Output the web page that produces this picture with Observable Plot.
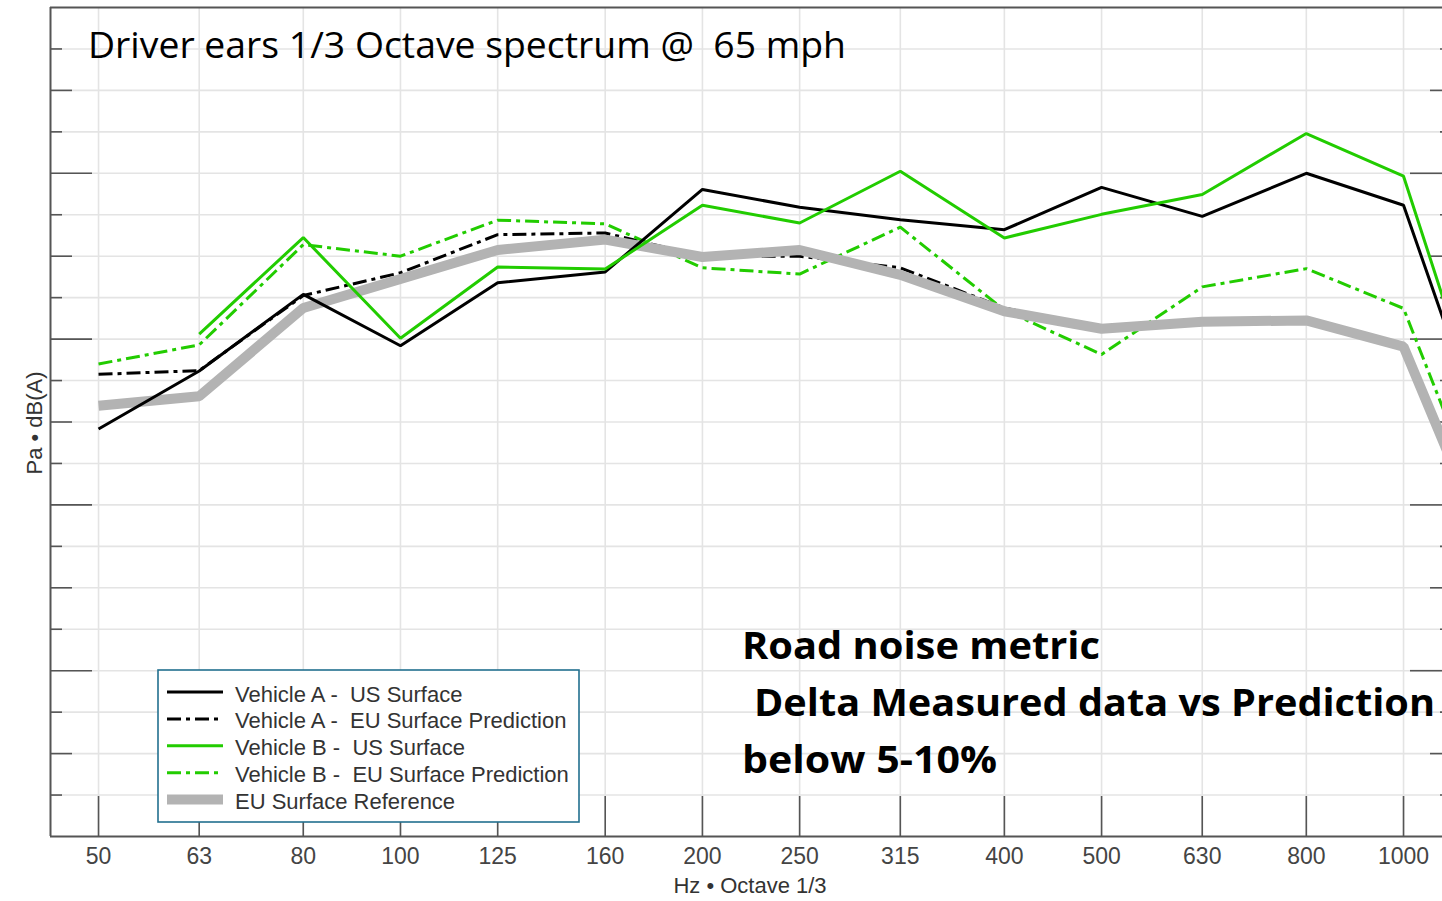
<!DOCTYPE html>
<html><head><meta charset="utf-8">
<script src="https://cdn.jsdelivr.net/npm/d3@7"></script>
<script src="https://cdn.jsdelivr.net/npm/@observablehq/plot@0.6"></script>
<style>
html,body{margin:0;padding:0;background:#fff;overflow:hidden;}
#chart{position:relative;width:1442px;height:901px;}
#chart svg{max-width:none !important;}
</style></head><body><div id="chart"></div>
<script>
// ---- data (dB units on the hidden y scale) ----
const freqs      = [50, 63, 80, 100, 125, 160, 200, 250, 315, 400, 500, 630, 800, 1000, 1250];
const tickFreqs  = [50, 63, 80, 100, 125, 160, 200, 250, 315, 400, 500, 630, 800, 1000];
const tickLabels = ["50","63","80","100","125","160","200","250","315","400","500","630","800","1000"];
const vehA_US = [9.83, 11.23, 13.08, 11.84, 13.36, 13.62, 15.61, 15.18, 14.88, 14.64, 15.66, 14.96, 16.0, 15.23, 8.5];
const vehA_EU = [11.15, 11.24, 13.05, 13.6, 14.52, 14.56, 14.0, 14.0, 13.72, 12.75, 12.27, 12.41, 12.46, 11.85, 6.3];
const vehB_US = [null, 12.12, 14.45, 12.02, 13.74, 13.69, 15.23, 14.8, 16.05, 14.44, 15.01, 15.49, 16.96, 15.93, 8.7];
const vehB_EU = [11.4, 11.86, 14.28, 14.0, 14.87, 14.78, 13.72, 13.57, 14.7, 12.7, 11.63, 13.26, 13.7, 12.74, 6.8];
const euRef   = [10.39, 10.62, 12.75, 13.45, 14.15, 14.4, 13.98, 14.15, 13.55, 12.67, 12.25, 12.42, 12.45, 11.82, 6.2];
const seriesNames = ["Vehicle A -  US Surface", "Vehicle A -  EU Surface Prediction", "Vehicle B -  US Surface", "Vehicle B -  EU Surface Prediction", "EU Surface Reference"];
const yGrid  = [1,2,3,4,5,6,7,8,9,10,11,12,13,14,15,16,17,18,19];
const yLong  = [4, 8, 12, 16];
const yMed   = [2, 6, 10, 14, 18];
const yShort = [1, 3, 5, 7, 9, 11, 13, 15, 17, 19];
const title = "Driver ears 1/3 Octave spectrum @  65 mph";
const note = ["Road noise metric", "Delta Measured data vs Prediction", "below 5-10%"];

// ---- layout ----
const W = 1442, H = 901, ML = 50, MR = 0, MT = 7, MB = 65;
const PW = W - ML - MR, PH = H - MT - MB;
const xDomain = [44.78, 1093.6];
const GREEN = "#22cc00", BLACK = "#000", GRAY = "#b3b3b3", AXIS = "#555", GRID = "#e4e4e4";
const DASHDOT = "14,5,4,5";
const toRows = arr => freqs.map((f, i) => ({f, v: arr[i]})).filter(d => d.v != null);
const styles = [
  {data: vehA_US, stroke: BLACK, width: 3, dash: null},
  {data: vehA_EU, stroke: BLACK, width: 3, dash: DASHDOT},
  {data: vehB_US, stroke: GREEN, width: 3, dash: null},
  {data: vehB_EU, stroke: GREEN, width: 3, dash: DASHDOT},
  {data: euRef,   stroke: GRAY,  width: 10, dash: null}
];
const lineMark = s => Plot.line(toRows(s.data), {x: "f", y: "v", stroke: s.stroke, strokeWidth: s.width,
  strokeDasharray: s.dash, strokeLinejoin: "miter", strokeLinecap: "butt", clip: true});
const drawOrder = [1, 3, 4, 0, 2];

const svgEl = Plot.plot({
  width: W, height: H, marginLeft: ML, marginRight: MR, marginTop: MT, marginBottom: MB,
  style: {background: "white", fontFamily: "'Liberation Sans', Arial, sans-serif"},
  x: {type: "log", domain: xDomain, label: null},
  y: {domain: [0, 20], axis: null, label: null},
  marks: [
    Plot.ruleY(yGrid, {stroke: GRID, strokeWidth: 1.6}),
    Plot.ruleX(tickFreqs, {stroke: GRID, strokeWidth: 1.6}),
    Plot.ruleX(tickFreqs, {insetTop: PH - 40, stroke: AXIS, strokeWidth: 1.6}),
    Plot.ruleY(yLong,  {insetRight: PW - 42, stroke: AXIS, strokeWidth: 1.6}),
    Plot.ruleY(yMed,   {insetRight: PW - 22, stroke: AXIS, strokeWidth: 1.6}),
    Plot.ruleY(yShort, {insetRight: PW - 12, stroke: AXIS, strokeWidth: 1.6}),
    Plot.ruleY(yLong,  {insetLeft: PW - 32, stroke: AXIS, strokeWidth: 1.6}),
    Plot.ruleY(yMed,   {insetLeft: PW - 12, stroke: AXIS, strokeWidth: 1.6}),
    Plot.ruleY(yShort, {insetLeft: PW - 2, stroke: AXIS, strokeWidth: 1.6}),
    Plot.ruleY([0, 20], {stroke: AXIS, strokeWidth: 2}),
    Plot.ruleX([xDomain[0]], {stroke: AXIS, strokeWidth: 2}),
    Plot.axisX(tickFreqs, {tickSize: 0, tickPadding: 11, fontSize: 23, fill: "#444",
      tickFormat: d => tickLabels[tickFreqs.indexOf(d)], label: null}),
    ...drawOrder.map(i => lineMark(styles[i]))
  ]
});
document.getElementById("chart").appendChild(svgEl);

// ---- texts and legend ----
const svg = d3.select(svgEl);
const g = svg.append("g").attr("text-anchor", "start");
g.append("text").attr("x", 88).attr("y", 58).attr("text-anchor", "start").attr("font-family", "'Open Sans', Lato, sans-serif")
  .attr("font-size", 37).attr("fill", "#000").attr("textLength", 758).attr("lengthAdjust", "spacingAndGlyphs").text(title);
const noteX = [742, 754, 742], noteY = [659, 716, 773], noteLen = [358, 681, 255];
note.forEach((t, i) => g.append("text").attr("x", noteX[i]).attr("y", noteY[i]).attr("text-anchor", "start")
  .attr("font-family", "'Open Sans', Lato, sans-serif").attr("font-weight", 700).attr("font-size", 38)
  .attr("fill", "#000").attr("textLength", noteLen[i]).attr("lengthAdjust", "spacingAndGlyphs").text(t));
g.append("text").attr("x", 750).attr("y", 893).attr("text-anchor", "middle")
  .attr("font-family", "'Liberation Sans', Arial, sans-serif").attr("font-size", 22).attr("fill", "#333").text("Hz • Octave 1/3");
g.append("text").attr("transform", "translate(42,423) rotate(-90)").attr("text-anchor", "middle")
  .attr("font-family", "'Liberation Sans', Arial, sans-serif").attr("font-size", 22).attr("fill", "#333").text("Pa • dB(A)");

const lg = svg.append("g").attr("transform", "translate(158,670)").attr("text-anchor", "start");
lg.append("rect").attr("width", 421).attr("height", 152).attr("fill", "white").attr("stroke", "#22708f").attr("stroke-width", 1.6);
seriesNames.forEach((name, i) => {
  const s = styles[i], cy = 22 + i * 26.9;
  lg.append("line").attr("x1", 9).attr("x2", 65).attr("y1", cy).attr("y2", cy)
    .attr("stroke", s.stroke).attr("stroke-width", s.width).attr("stroke-dasharray", s.dash);
  lg.append("text").attr("x", 77).attr("y", cy + 9.5).attr("text-anchor", "start").attr("font-family", "'Liberation Sans', Arial, sans-serif")
    .attr("font-size", 22).attr("fill", "#333").attr("xml:space", "preserve").style("white-space", "pre").text(name);
});
</script></body></html>
